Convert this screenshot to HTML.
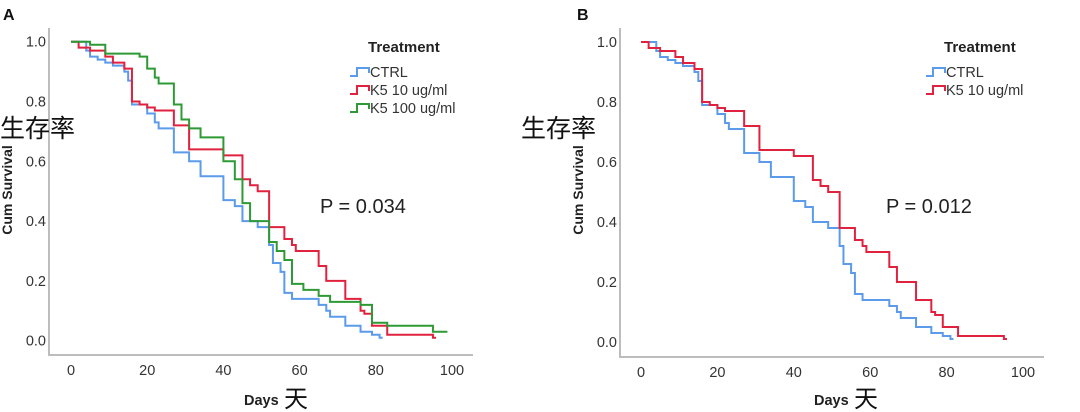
<!DOCTYPE html>
<html><head><meta charset="utf-8">
<style>
html,body{margin:0;padding:0;background:#fff;}
svg{display:block;font-family:"Liberation Sans",Arial,sans-serif;}
.tick{font-size:14.5px;fill:#333;}
</style></head>
<body>
<svg id="chart" width="1080" height="412" viewBox="0 0 1080 412"></svg>
<script>
// Data (days, survival) step functions
const xTicks = [0, 20, 40, 60, 80, 100];
const yTicks = [0.0, 0.2, 0.4, 0.6, 0.8, 1.0];
const ctrlDays = [0, 4, 5, 7, 9, 11, 14, 15, 16, 20, 22, 23, 27, 31, 34, 40, 43, 45, 49, 52, 53, 55, 56, 58, 65, 67, 68, 72, 76, 79, 81];
const ctrlSurv = [1.0, .97, .95, .94, .93, .92, .90, .87, .79, .76, .73, .71, .63, .60, .55, .47, .45, .40, .38, .32, .26, .23, .16, .14, .12, .10, .08, .05, .03, .02, .01];
const k10Days = [0, 2, 5, 9, 11, 14, 16, 18, 20, 22, 27, 31, 40, 45, 47, 49, 52, 56, 58, 59, 65, 67, 72, 76, 77, 79, 83, 95];
const k10Surv = [1.0, .98, .97, .95, .93, .91, .80, .79, .78, .77, .72, .64, .62, .54, .52, .50, .38, .34, .32, .30, .25, .20, .14, .10, .09, .05, .02, .01];
const k100Days = [0, 5, 9, 18, 20, 22, 23, 27, 29, 31, 34, 40, 43, 45, 47, 52, 54, 56, 58, 61, 65, 68, 76, 79, 83, 95, 98];
const k100Surv = [1.0, .99, .96, .95, .91, .88, .86, .79, .74, .71, .68, .60, .54, .46, .40, .33, .30, .27, .19, .17, .15, .13, .12, .06, .05, .03, .03];

const NS = "http://www.w3.org/2000/svg";
const svg = document.getElementById("chart");
function mk(tag, attrs, parent, text) {
  const e = document.createElementNS(NS, tag);
  for (const k in attrs) e.setAttribute(k, attrs[k]);
  if (text !== undefined) e.textContent = text;
  (parent || svg).appendChild(e);
  return e;
}
const BLUE = "#5b9bea", RED = "#e0223f", GREEN = "#2e9a35";

function panel(cfg) {
  const g = mk("g", {});
  
  
  const xs = d => cfg.x0 + d * (cfg.x100 - cfg.x0) / 100;
  const ys = v => cfg.y0 + v * (cfg.y1 - cfg.y0);
  const axes = mk("path", {d: `M${cfg.left},${cfg.top} V${cfg.bottom} H${cfg.right}`, fill: "none", stroke: "#bdbdbd", "stroke-width": 2}, g);
  
  
  yTicks.forEach(t => {
    const el = mk("text", {x: cfg.left - 3, y: ys(t) + 5, "text-anchor": "end", class: "tick"}, g, t.toFixed(1));
    
    
  });
  xTicks.forEach(t => {
    const el = mk("text", {x: xs(t), y: cfg.bottom + 20, "text-anchor": "middle", class: "tick"}, g, String(t));
    
    
  });
  cfg.series.forEach(s => {
    let d = `M${xs(s.days[0])},${ys(s.surv[0])}`;
    for (let i = 1; i < s.days.length; i++) {
      d += ` H${xs(s.days[i])} V${ys(s.surv[i])}`;
    }
    d += ` H${xs(s.days[s.days.length - 1] + 0.8)}`;
    const p = mk("path", {d: d, fill: "none", stroke: s.color, "stroke-width": 2}, g);
    
    
  });
  // legend
  const lt = mk("text", {x: cfg.legX + 18, y: 52, "font-size": 15, "font-weight": "bold", fill: "#222"}, g, "Treatment");
  
  
  cfg.series.forEach((s, i) => {
    const y = 72 + i * 18;
    const ic = mk("path", {d: `M${cfg.legX},${y + 4} H${cfg.legX + 7} V${y - 4} H${cfg.legX + 19} V${y + 1}`, fill: "none", stroke: s.color, "stroke-width": 2}, g);
    
    
    const tx = mk("text", {x: cfg.legX + 20, y: y + 5, "font-size": 14.5, fill: "#333"}, g, s.label);
    
    
  });
  const pv = mk("text", {x: cfg.pX, y: 213, "font-size": 20, fill: "#222"}, g, cfg.p);
  
  
  const yt = mk("text", {x: 0, y: 0, "font-size": 14, "font-weight": "bold", fill: "#222", "text-anchor": "middle", transform: `translate(${cfg.ytX},${cfg.ytY}) rotate(-90)`}, g, "Cum Survival");
  
  
  const cn = mk("text", {x: cfg.cnX, y: 137, "font-size": 25, fill: "#111", "font-family": "'Liberation Sans','Noto Sans CJK SC',sans-serif"}, g, "生存率");
  
  
  const xt = mk("text", {x: cfg.xtX, y: 405, "font-size": 14.5, "font-weight": "bold", fill: "#222"}, g, "Days");
  
  
  const xc = mk("text", {x: cfg.xtX + 40, y: 407, "font-size": 24, fill: "#111", "font-family": "'Liberation Sans','Noto Sans CJK SC',sans-serif"}, g, "天");
  
  
  const lab = mk("text", {x: cfg.labX, y: 20, "font-size": 16, "font-weight": "bold", fill: "#111"}, g, cfg.label);
  
  
}

panel({name: "panel-a", label: "A", labX: 3, x0: 71, x100: 452, y0: 340.7, y1: 41.7,
  left: 49, right: 473, top: 28, bottom: 355, legX: 350, pX: 320, p: "P = 0.034",
  ytX: 12, ytY: 190, cnX: 0, xtX: 244, series: [
    {name: "ctrl-curve", days: ctrlDays, surv: ctrlSurv, color: BLUE, label: "CTRL"},
    {name: "k5-10-curve", days: k10Days, surv: k10Surv, color: RED, label: "K5 10 ug/ml"},
    {name: "k5-100-curve", days: k100Days, surv: k100Surv, color: GREEN, label: "K5 100 ug/ml"}]});
panel({name: "panel-b", label: "B", labX: 577, x0: 641, x100: 1023, y0: 342, y1: 42,
  left: 620, right: 1044, top: 28, bottom: 357, legX: 926, pX: 886, p: "P = 0.012",
  ytX: 583, ytY: 190, cnX: 521, xtX: 814, series: [
    {name: "ctrl-curve", days: ctrlDays, surv: ctrlSurv, color: BLUE, label: "CTRL"},
    {name: "k5-10-curve", days: k10Days, surv: k10Surv, color: RED, label: "K5 10 ug/ml"}]});
</script>
</body></html>
